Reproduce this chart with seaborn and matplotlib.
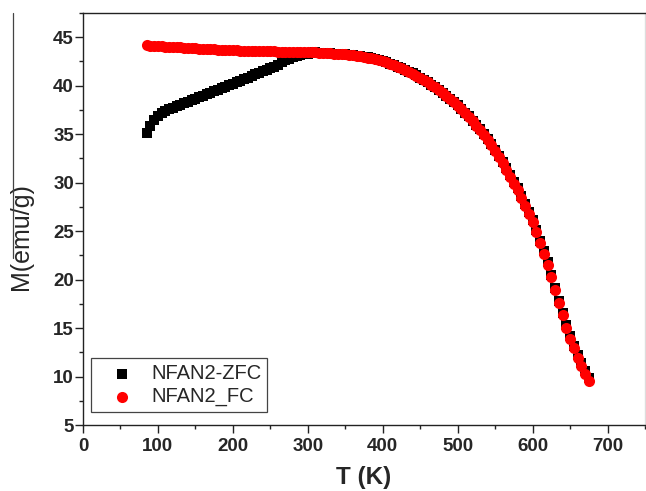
import matplotlib
matplotlib.use("Agg")
import matplotlib.pyplot as plt
from matplotlib.lines import Line2D
from matplotlib.ticker import MultipleLocator
import seaborn as sns
import pandas as pd

# Temperature grid of the magnetisation sweep (K)
temperature_K = [
    85, 90, 95, 100, 105, 110, 115, 120, 125, 130, 135, 140, 145, 150, 155,
    160, 165, 170, 175, 180, 185, 190, 195, 200, 205, 210, 215, 220, 225, 230,
    235, 240, 245, 250, 255, 260, 265, 270, 275, 280, 285, 290, 295, 300, 305,
    310, 315, 320, 325, 330, 335, 340, 345, 350, 355, 360, 365, 370, 375, 380,
    385, 390, 395, 400, 405, 410, 415, 420, 425, 430, 435, 440, 445, 450, 455,
    460, 465, 470, 475, 480, 485, 490, 495, 500, 505, 510, 515, 520, 525, 530,
    535, 540, 545, 550, 555, 560, 565, 570, 575, 580, 585, 590, 595, 600, 605,
    610, 615, 620, 625, 630, 635, 640, 645, 650, 655, 660, 665, 670, 675,
]

# Zero-field-cooled magnetisation (emu/g)
m_zfc = [
    35.10, 35.85, 36.50, 36.90, 37.15, 37.40, 37.60, 37.75, 37.90, 38.05,
    38.20, 38.35, 38.50, 38.65, 38.80, 38.95, 39.10, 39.25, 39.42, 39.58,
    39.75, 39.90, 40.05, 40.20, 40.37, 40.53, 40.68, 40.84, 41.00, 41.17,
    41.33, 41.50, 41.65, 41.80, 41.97, 42.15, 42.40, 42.62, 42.80, 42.95,
    43.07, 43.15, 43.22, 43.30, 43.38, 43.43, 43.42, 43.41, 43.38, 43.35,
    43.32, 43.30, 43.27, 43.24, 43.20, 43.16, 43.10, 43.04, 42.98, 42.91,
    42.83, 42.75, 42.66, 42.57, 42.43, 42.29, 42.14, 41.97, 41.80, 41.63,
    41.45, 41.27, 41.06, 40.84, 40.61, 40.38, 40.12, 39.86, 39.58, 39.29,
    38.97, 38.65, 38.32, 38.00, 37.62, 37.23, 36.83, 36.41, 35.96, 35.49,
    35.02, 34.53, 33.94, 33.33, 32.75, 32.15, 31.48, 30.79, 30.10, 29.40,
    28.62, 27.83, 27.02, 26.17, 25.10, 24.00, 22.90, 21.78, 20.45, 19.13,
    17.84, 16.55, 15.28, 14.18, 13.18, 12.23, 11.38, 10.58, 9.83,
]

# Field-cooled magnetisation (emu/g)
m_fc = [
    44.15, 44.13, 44.11, 44.08, 44.06, 44.04, 44.02, 44.00, 43.97, 43.95,
    43.92, 43.90, 43.87, 43.85, 43.82, 43.80, 43.78, 43.76, 43.74, 43.72,
    43.70, 43.68, 43.66, 43.65, 43.64, 43.62, 43.61, 43.60, 43.59, 43.58,
    43.57, 43.56, 43.55, 43.54, 43.53, 43.52, 43.51, 43.51, 43.50, 43.50,
    43.49, 43.48, 43.47, 43.47, 43.46, 43.44, 43.42, 43.41, 43.38, 43.35,
    43.32, 43.29, 43.26, 43.23, 43.19, 43.15, 43.09, 43.03, 42.97, 42.90,
    42.82, 42.74, 42.65, 42.55, 42.41, 42.27, 42.12, 41.95, 41.78, 41.61,
    41.43, 41.25, 41.03, 40.81, 40.58, 40.35, 40.09, 39.82, 39.54, 39.25,
    38.93, 38.61, 38.28, 37.95, 37.57, 37.18, 36.77, 36.35, 35.89, 35.42,
    34.94, 34.45, 33.85, 33.23, 32.62, 32.00, 31.31, 30.61, 29.91, 29.20,
    28.42, 27.62, 26.80, 25.95, 24.88, 23.78, 22.67, 21.55, 20.22, 18.90,
    17.60, 16.30, 15.00, 13.90, 12.90, 11.95, 11.10, 10.30, 9.55,
]

series_labels = ["NFAN2-ZFC", "NFAN2_FC"]
x_ticks = [0, 100, 200, 300, 400, 500, 600, 700]
y_ticks = [5, 10, 15, 20, 25, 30, 35, 40, 45]

sns.set_style("ticks")
plt.rcParams["font.family"] = ["Liberation Sans", "DejaVu Sans"]

fig = plt.figure(figsize=(6.46, 4.91), dpi=100)
ax = fig.add_axes([83 / 646, 1 - 425 / 491, 562 / 646, 412 / 491])

zfc = pd.DataFrame({"T": temperature_K, "M": m_zfc})
fc = pd.DataFrame({"T": temperature_K, "M": m_fc})

sns.scatterplot(data=zfc, x="T", y="M", ax=ax, marker="s", s=48,
                color="black", linewidth=0, label=series_labels[0], zorder=3)
sns.scatterplot(data=fc, x="T", y="M", ax=ax, marker="o", s=64,
                color="#ff0000", linewidth=0, label=series_labels[1], zorder=4)

ax.set_xlim(0, 750)
ax.set_ylim(5, 47.5)
ax.set_xticks(x_ticks)
ax.set_yticks(y_ticks)
ax.xaxis.set_minor_locator(MultipleLocator(50))
ax.yaxis.set_minor_locator(MultipleLocator(2.5))

ax.tick_params(which="major", direction="out", length=5.5, width=1.0,
               color="#222222", labelsize=13.5)
ax.tick_params(which="minor", direction="out", length=3.0, width=1.0,
               color="#222222")
ax.tick_params(axis="y", which="major", pad=1.0)
ax.tick_params(axis="x", which="major", pad=4.0)
for lbl in ax.get_xticklabels() + ax.get_yticklabels():
    lbl.set_fontweight("bold")

for side in ["left", "bottom", "top"]:
    ax.spines[side].set_color("#222222")
    ax.spines[side].set_linewidth(1.0)
ax.spines["right"].set_color("#dddddd")
ax.spines["right"].set_linewidth(1.0)

ax.set_xlabel("T (K)", fontsize=17.5, fontweight="bold")
ax.xaxis.set_label_coords(0.5, -0.10)
ax.set_ylabel("M(emu/g)", fontsize=18)
ax.yaxis.set_label_coords(-0.089, 0.4575)

# thin overline running along the axis label
fig.add_artist(Line2D([13 / 646, 13 / 646], [1 - 12.7 / 491, 1 - 258 / 491],
                      transform=fig.transFigure, color="#444444", linewidth=0.9))

leg = ax.legend(loc="lower left", bbox_to_anchor=(0.0137, 0.0308),
                borderaxespad=0, fontsize=14.5, frameon=True, fancybox=False,
                framealpha=1, edgecolor="#444444", borderpad=0.3,
                handlelength=2.5, handletextpad=0.2, labelspacing=0.2)
leg.get_frame().set_linewidth(0.9)

fig.savefig("out.png", dpi=100)
